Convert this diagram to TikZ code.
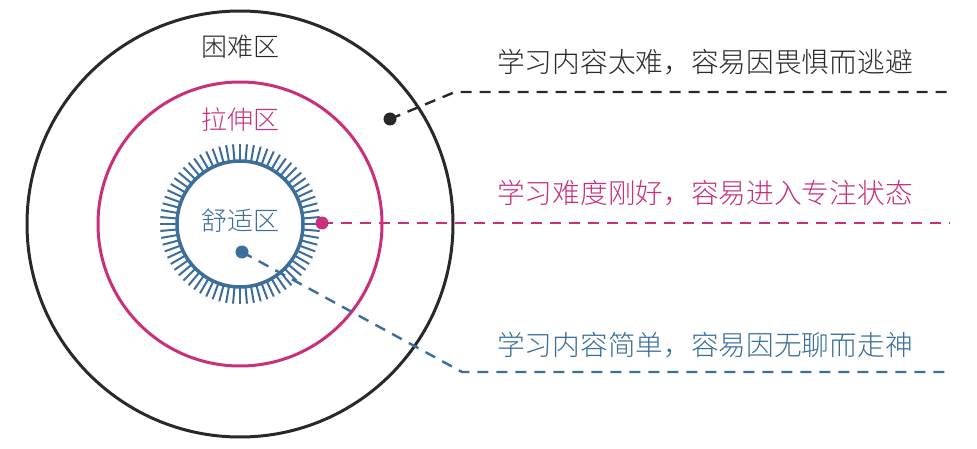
\documentclass[tikz,border=0pt]{standalone}
\usepackage{fontspec}
\usepackage{tikz}
\newfontfamily\cjk{Noto Sans CJK SC Light}
\definecolor{hardblack}{HTML}{2B2829}
\definecolor{stretchpink}{HTML}{C8307C}
\definecolor{comfortblue}{HTML}{3B6E9A}
\tikzset{
  zone/.style={circle, draw, line width=3pt, inner sep=0pt},
  dot/.style={circle, fill, inner sep=0pt, minimum size=13pt},
  lead/.style={line width=2.4pt, dash pattern=on 11pt off 8pt},
  zonelabel/.style={font=\cjk\fontsize{26}{30}\selectfont, inner sep=0pt},
  tip/.style={font=\cjk\fontsize{27.7}{32}\selectfont, inner sep=0pt, anchor=west}
}

\begin{document}
\begin{tikzpicture}[x=1pt,y=-1pt]
\useasboundingbox (0,0) rectangle (977,449);
\coordinate (c) at (240,224);

% 困难区
\node[zone, hardblack, minimum size=426pt] (hard) at (c) {};
\node[zonelabel, hardblack] (hardlabel) at (240,47) {困难区};

% 拉伸区
\node[zone, stretchpink, minimum size=284pt] (stretch) at (c) {};
\node[zonelabel, stretchpink] (stretchlabel) at (240,120) {拉伸区};

% 舒适区
\node[zone, comfortblue, line width=3.5pt, minimum size=126pt] (comfort) at (c) {};
\foreach \a in {0,5,...,355}
  \draw[comfortblue, line width=2pt] ([shift={(\a:63pt)}]c) -- ([shift={(\a:80pt)}]c);
\node[zonelabel, comfortblue] (comfortlabel) at (240,221) {舒适区};

% dots and leads
\node[dot, hardblack] (harddot) at (390,119) {};
\coordinate (hardknee) at (455,92);
\coordinate (hardend) at (950,92);
\draw[lead, hardblack] (harddot.center) -- (hardknee) -- (hardend);
\node[tip, hardblack] (hardtip) at (497,62) {学习内容太难，容易因畏惧而逃避};

\node[dot, stretchpink] (stretchdot) at (322,223) {};
\coordinate (stretchend) at (950,223);
\draw[lead, stretchpink] (stretchdot.center) -- (stretchend);
\node[tip, stretchpink] (stretchtip) at (497,193) {学习难度刚好，容易进入专注状态};

\node[dot, comfortblue] (comfortdot) at (242,252) {};
\coordinate (comfortknee) at (462,372);
\coordinate (comfortend) at (950,372);
\draw[lead, comfortblue] (comfortdot.center) -- (comfortknee) -- (comfortend);
\node[tip, comfortblue] (comforttip) at (497,345) {学习内容简单，容易因无聊而走神};
\end{tikzpicture}
\end{document}
